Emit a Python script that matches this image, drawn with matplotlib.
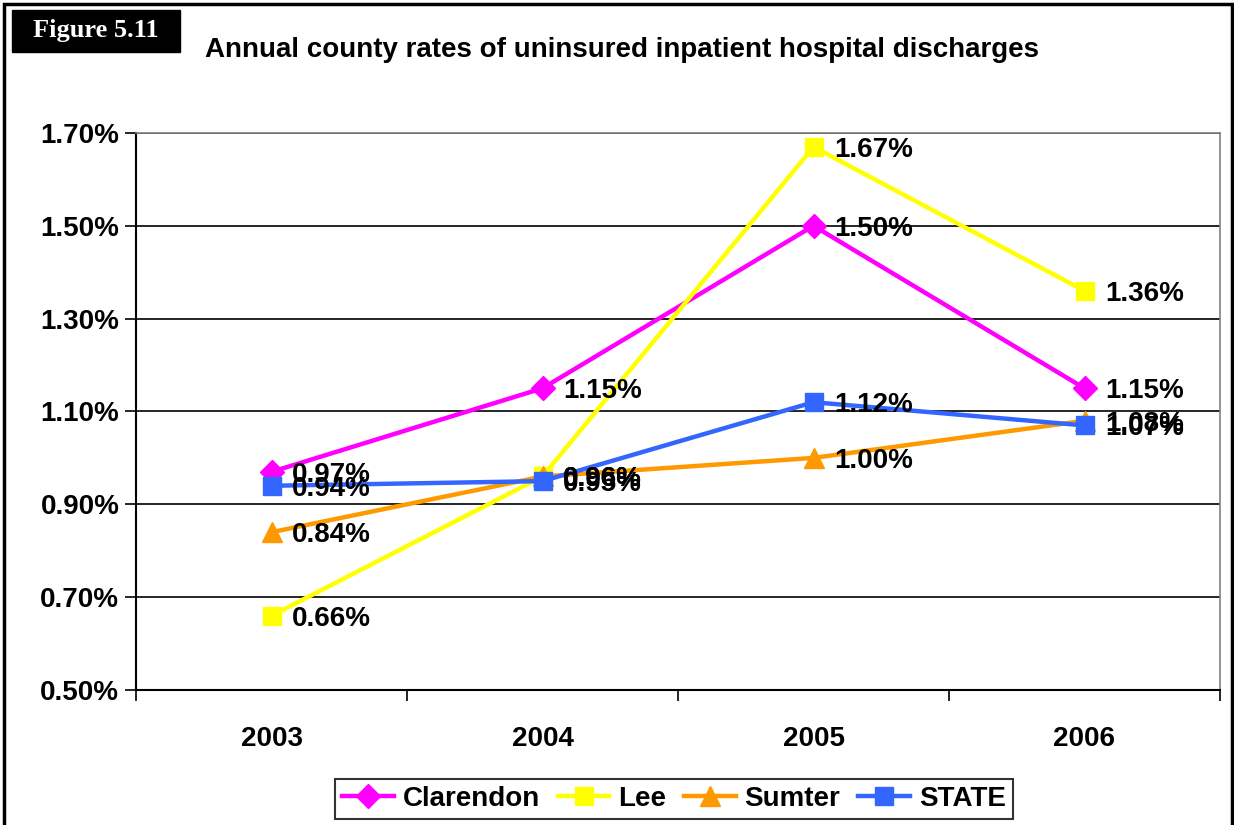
import matplotlib
matplotlib.use("Agg")
import matplotlib.pyplot as plt
from matplotlib.patches import Rectangle
from matplotlib.ticker import FixedLocator

years = ["2003", "2004", "2005", "2006"]
clarendon = [0.97, 1.15, 1.50, 1.15]
lee = [0.66, 0.96, 1.67, 1.36]
sumter = [0.84, 0.96, 1.00, 1.08]
state = [0.94, 0.95, 1.12, 1.07]
yticks = [0.50, 0.70, 0.90, 1.10, 1.30, 1.50, 1.70]

series = [
    ("Clarendon", clarendon, "#FF00FF", "D", 12),
    ("Lee", lee, "#FFFF00", "s", 13),
    ("Sumter", sumter, "#FF9900", "^", 14),
    ("STATE", state, "#3366FF", "s", 13),
]

plt.rcParams['font.family'] = ['Liberation Sans', 'DejaVu Sans']
plt.rcParams['font.weight'] = 'bold'
FS = 20

fig = plt.figure(figsize=(12.34, 8.25), dpi=100)
ax = fig.add_axes([136/1234, 1-690/825, (1220-136)/1234, (690-133)/825])

x = list(range(len(years)))
for name, vals, col, mk, ms in series:
    ax.plot(x, vals, color=col, lw=3.2, marker=mk, ms=ms, label=name, zorder=3)
for name, vals, col, mk, ms in series:
    for xi, v in zip(x, vals):
        ax.annotate(f"{v:.2f}%", (xi, v), xytext=(15, -2), textcoords="offset points",
                    ha="left", va="center", fontsize=FS, fontweight="bold", color="black", zorder=4)

ax.set_xlim(-0.5, 3.5)
ax.set_ylim(0.5, 1.7)
ax.set_yticks(yticks)
ax.set_yticklabels([f"{t:.2f}%" for t in yticks], fontsize=FS, fontweight="bold")
ax.yaxis.grid(True, color="black", lw=1.2)
ax.set_axisbelow(True)
ax.set_xticks(x)
ax.set_xticklabels(years, fontsize=FS, fontweight="bold")
ax.xaxis.set_minor_locator(FixedLocator([-0.5, 0.5, 1.5, 2.5, 3.5]))
ax.tick_params(axis="x", which="major", length=0, pad=26)
ax.tick_params(axis="x", which="minor", length=8, width=1.2, direction="out")
ax.tick_params(axis="y", length=8, width=1.2, direction="out", pad=4)
for s in ["top", "right"]:
    ax.spines[s].set_color("#808080")
    ax.spines[s].set_linewidth(1.2)
for s in ["left", "bottom"]:
    ax.spines[s].set_color("black")
    ax.spines[s].set_linewidth(1.5)

leg = fig.legend(loc="center", bbox_to_anchor=(674/1234, 1-799/825), ncol=4,
                 prop={"size": FS, "weight": "bold"}, frameon=True, fancybox=False,
                 edgecolor="black", handlelength=1.85, columnspacing=0.65, handletextpad=0.32,
                 borderpad=0.25, borderaxespad=0)
leg.get_frame().set_linewidth(1.5)

# outer frame
fig.patches.append(Rectangle((4/1234, -0.01), 1228/1234, 1-4/825+0.01, transform=fig.transFigure,
                             fill=False, edgecolor="black", lw=2.5))
# Figure label box
fig.patches.append(Rectangle((12/1234, 1-52/825), 168/1234, 42/825, transform=fig.transFigure,
                             facecolor="black", edgecolor="black"))
fig.text(96/1234, 1-31/825, "Figure 5.11", color="white", fontsize=19, fontweight="bold",
         family=["Liberation Serif", "DejaVu Serif"], ha="center", va="center")
fig.text(205/1234, 1-50/825, "Annual county rates of uninsured inpatient hospital discharges",
         fontsize=FS, fontweight="bold", ha="left", va="center")

fig.savefig("out.png", dpi=100)
